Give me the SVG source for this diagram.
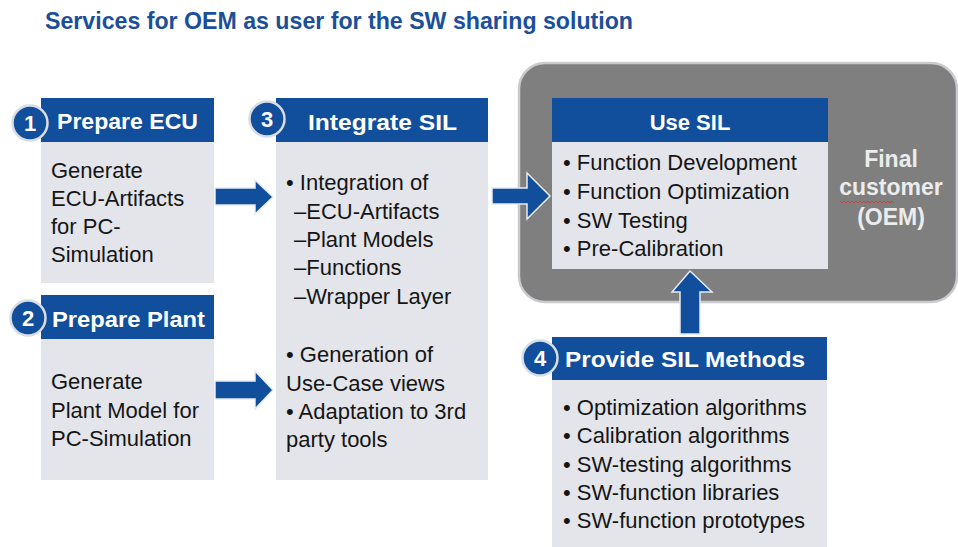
<svg xmlns="http://www.w3.org/2000/svg" width="958" height="547" viewBox="0 0 958 547">
<defs>
<style>
.title{font-family:"Liberation Sans",Arial,sans-serif;font-weight:bold;font-size:24px;fill:#1b4f9c}
.hdr{fill:#114e9c}
.body{fill:#e3e5ea}
.ht{font-family:"Liberation Sans",Arial,sans-serif;font-weight:bold;font-size:22px;fill:#ffffff}
.bt{font-family:"Liberation Sans",Arial,sans-serif;font-size:22px;fill:#151515}
.num{font-family:"Liberation Sans",Arial,sans-serif;font-weight:bold;font-size:22px;fill:#ffffff;text-anchor:middle}
.circ{fill:#114e9c;stroke:#d9dde5;stroke-width:2.5}
.arrow{fill:#114e9c;stroke:#e8ecf2;stroke-width:1.5}
.fc{font-family:"Liberation Sans",Arial,sans-serif;font-weight:bold;font-size:23px;fill:#ececec;text-anchor:middle}
</style>
</defs>

<text class="title" x="45" y="29" textLength="588" lengthAdjust="spacingAndGlyphs">Services for OEM as user for the SW sharing solution</text>

<g id="final-customer">
<rect x="519" y="63" width="438" height="239" rx="26" ry="26" fill="#7f7f7f" stroke="#c9cbcf" stroke-width="2.5"/>
<text class="fc" x="891" y="167">Final</text>
<text class="fc" x="891" y="195">customer</text>
<path d="M840 201 l2 2 l2 -2 l2 2 l2 -2 l2 2 l2 -2 l2 2 l2 -2 l2 2 l2 -2 l2 2 l2 -2 l2 2 l2 -2 l2 2 l2 -2 l2 2 l2 -2 l2 2 l2 -2 l2 2 l2 -2 l2 2 l2 -2 l2 2 l2 -2 l2 2" fill="none" stroke="#d04040" stroke-width="1"/>
<text class="fc" x="891" y="225">(OEM)</text>
</g>

<g id="connectors">
<path class="arrow" d="M215 188 H255 V180 L273 197 L255 214 V205 H215 Z"/>
<path class="arrow" d="M215 381 H255 V371 L273 390 L255 409 V399 H215 Z"/>
<path class="arrow" d="M492 188 H527 V173 L550 196 L527 219 V204 H492 Z"/>
<path class="arrow" d="M680 334 V292 H672 L690 271 L712 292 H700 V334 Z"/>
</g>

<g id="n1">
<rect class="body" x="41" y="142" width="173" height="141"/>
<rect class="hdr" x="41" y="98" width="173" height="44"/>
<circle class="circ" cx="30" cy="123" r="17.5"/>
<text class="num" x="30" y="131">1</text>
<text class="ht" x="57" y="129" textLength="141" lengthAdjust="spacingAndGlyphs">Prepare ECU</text>
<text class="bt" x="51" y="178">Generate</text>
<text class="bt" x="51" y="206">ECU-Artifacts</text>
<text class="bt" x="51" y="234">for PC-</text>
<text class="bt" x="51" y="262">Simulation</text>
</g>

<g id="n2">
<rect class="body" x="41" y="339" width="173" height="141"/>
<rect class="hdr" x="41" y="295" width="173" height="44"/>
<circle class="circ" cx="28" cy="318" r="17.5"/>
<text class="num" x="28" y="326">2</text>
<text class="ht" x="52" y="327" textLength="153" lengthAdjust="spacingAndGlyphs">Prepare Plant</text>
<text class="bt" x="51" y="389">Generate</text>
<text class="bt" x="51" y="418">Plant Model for</text>
<text class="bt" x="51" y="446">PC-Simulation</text>
</g>

<g id="n3">
<rect class="body" x="276" y="142" width="212" height="338"/>
<rect class="hdr" x="276" y="98" width="212" height="44"/>
<circle class="circ" cx="267" cy="119" r="17.5"/>
<text class="num" x="267" y="127">3</text>
<text class="ht" x="308" y="130" textLength="149" lengthAdjust="spacingAndGlyphs">Integrate SIL</text>
<text class="bt" x="286" y="190">• Integration of</text>
<text class="bt" x="294" y="219">–ECU-Artifacts</text>
<text class="bt" x="294" y="247">–Plant Models</text>
<text class="bt" x="294" y="275">–Functions</text>
<text class="bt" x="294" y="304">–Wrapper Layer</text>
<text class="bt" x="286" y="362">• Generation of</text>
<text class="bt" x="286" y="391">Use-Case views</text>
<text class="bt" x="286" y="419">• Adaptation to 3rd</text>
<text class="bt" x="286" y="447">party tools</text>
</g>

<g id="use-sil">
<rect class="body" x="552" y="142" width="276" height="127"/>
<rect class="hdr" x="552" y="98" width="276" height="44"/>
<text class="ht" x="690" y="130" text-anchor="middle">Use SIL</text>
<text class="bt" x="563" y="170">• Function Development</text>
<text class="bt" x="563" y="199">• Function Optimization</text>
<text class="bt" x="563" y="228">• SW Testing</text>
<text class="bt" x="563" y="256">• Pre-Calibration</text>
</g>

<g id="n4">
<rect class="body" x="552" y="380" width="275" height="167"/>
<rect class="hdr" x="552" y="337" width="275" height="43"/>
<circle class="circ" cx="540" cy="358" r="17.5"/>
<text class="num" x="540" y="366">4</text>
<text class="ht" x="565" y="367" textLength="240" lengthAdjust="spacingAndGlyphs">Provide SIL Methods</text>
<text class="bt" x="563" y="415">• Optimization algorithms</text>
<text class="bt" x="563" y="443">• Calibration algorithms</text>
<text class="bt" x="563" y="472">• SW-testing algorithms</text>
<text class="bt" x="563" y="500">• SW-function libraries</text>
<text class="bt" x="563" y="528">• SW-function prototypes</text>
</g>
</svg>
